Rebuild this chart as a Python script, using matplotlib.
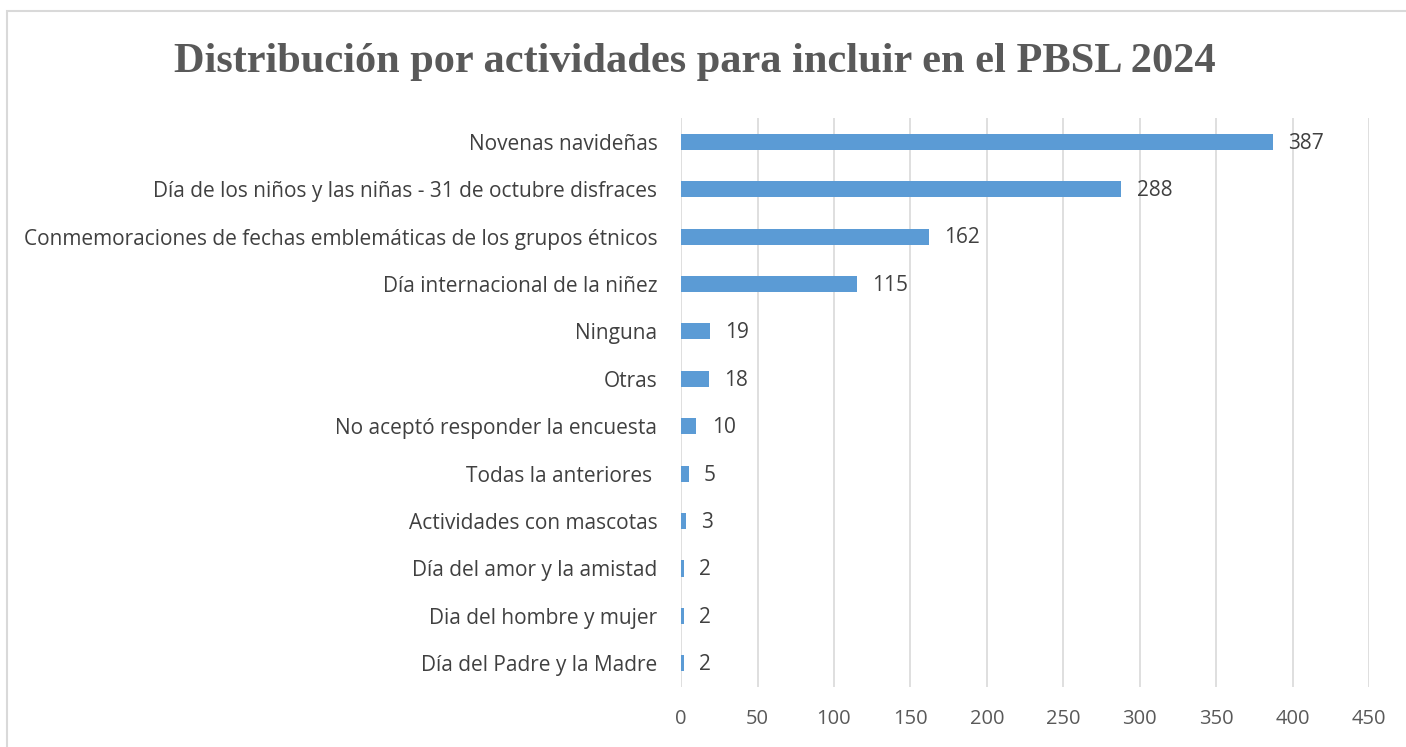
import matplotlib.pyplot as plt
from matplotlib.patches import Rectangle

categorias = [
    "Novenas navideñas",
    "Día de los niños y las niñas - 31 de octubre disfraces",
    "Conmemoraciones de fechas emblemáticas de los grupos étnicos",
    "Día internacional de la niñez",
    "Ninguna",
    "Otras",
    "No aceptó responder la encuesta",
    "Todas la anteriores ",
    "Actividades con mascotas",
    "Día del amor y la amistad",
    "Dia del hombre y mujer",
    "Día del Padre y la Madre",
]
valores = [387, 288, 162, 115, 19, 18, 10, 5, 3, 2, 2, 2]
ticks_x = [0, 50, 100, 150, 200, 250, 300, 350, 400, 450]

fig = plt.figure(figsize=(14.06, 7.47), dpi=100)
ax = fig.add_axes([0.4844, 0.0803, 0.4893, 0.7617])

# marco del grafico
fig.patches.append(Rectangle((7 / 1406, -0.1), 1.2, 1 - 11 / 747 + 0.1,
                             transform=fig.transFigure, fill=False,
                             edgecolor="#d9d9d9", linewidth=1.5))

pos = list(range(len(categorias)))
ax.barh(pos, valores, height=0.34, color="#5B9BD5", zorder=3)
ax.set_ylim(len(categorias) - 0.5, -0.5)
ax.set_xlim(0, 450)
ax.set_xticks(ticks_x)
ax.set_yticks(pos)
ax.set_yticklabels(categorias, fontsize=15, color="#404040", family="Open Sans")
ax.set_xticklabels([str(t) for t in ticks_x], fontsize=14.5, color="#595959", family="Open Sans")
ax.tick_params(axis="y", length=0, pad=17)
ax.tick_params(axis="x", length=0, pad=16)
ax.grid(axis="x", color="#d9d9d9", linewidth=1.2, zorder=0)
for s in ax.spines.values():
    s.set_visible(False)

for p, v in zip(pos, valores):
    ax.annotate(str(v), (v, p), xytext=(11, -1), textcoords="offset points",
                va="center", ha="left", fontsize=15, color="#404040", family="Open Sans")

fig.text(0.494, 0.917, "Distribución por actividades para incluir en el PBSL 2024",
         ha="center", va="center", fontsize=30.5, fontweight="bold",
         color="#595959", family="Liberation Serif")

fig.savefig("out.png", dpi=100)
